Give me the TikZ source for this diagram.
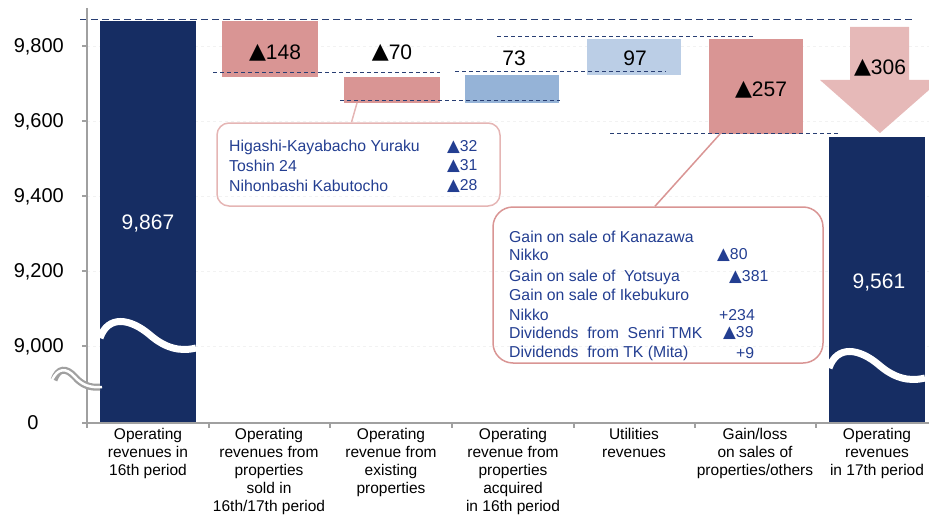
\documentclass[tikz,border=0pt]{standalone}
\usepackage{fontspec}
\setmainfont{Liberation Sans}
\newfontfamily\symfont{DejaVu Sans}
\newcommand{\tri}{{\symfont\raisebox{0.02em}{\scalebox{1.05}{▲}}}}
\definecolor{barnavy}{RGB}{22,45,99}
\definecolor{barpink}{RGB}{217,149,148}
\definecolor{arrowpink}{RGB}{230,185,184}
\definecolor{barblue}{RGB}{149,179,215}
\definecolor{barlight}{RGB}{187,206,230}
\definecolor{dashnavy}{RGB}{40,62,115}
\definecolor{noteblue}{RGB}{35,62,145}
\definecolor{axisgray}{RGB}{160,160,160}
\begin{document}
\begin{tikzpicture}[x=1pt,y=-1pt,
    ticklabel/.style={anchor=east,inner sep=0pt,font=\fontsize{20}{22}\selectfont},
    catlabel/.style={anchor=north,align=center,inner sep=0pt,font=\fontsize{15.5}{18}\selectfont},
    valuelabel/.style={inner sep=0pt,font=\fontsize{21}{22}\selectfont},
    notetext/.style={anchor=west,inner sep=0pt,text=noteblue,font=\fontsize{15.8}{17}\selectfont},
    guide/.style={dashnavy,line width=1pt,dash pattern=on 4pt off 3pt},
    wave/.style={white,line width=7pt},
    callout/.style={draw,line width=1.5pt,inner sep=0pt}]
                        \useasboundingbox (0,0) rectangle (929,519);

                        % grid
                        \foreach \y in {46,121,196,271,346}
                            \draw[gray!10,dashed] (87,\y) -- (929,\y);

                        % bars
                        \fill[barnavy] (100,21) rectangle (196,423);
                        \fill[barpink] (222,21) rectangle (318,77);
                        \fill[barpink] (344,77) rectangle (440,103);
                        \fill[barblue] (465,75) rectangle (559,103);
                        \fill[barlight] (587,39) rectangle (681,75);
                        \fill[barpink] (709,39) rectangle (803,134);
                        \fill[arrowpink] (850,27) -- (909,27) -- (909,80) -- (929,80) -- (929,90)
                            -- (880,133) -- (820,80) -- (850,80) -- cycle;
                        \fill[barnavy] (829,137) rectangle (925,423);

                        \draw[wave] (100,338) .. controls (108,315) and (130,318) .. (150,335)
                            .. controls (165,348) and (180,352) .. (196,348);
                        \draw[wave] (829,368) .. controls (837,345) and (859,348) .. (879,365)
                            .. controls (894,378) and (909,382) .. (925,378);

                        % guide lines
                        \draw[guide,dash pattern=on 7pt off 4pt] (80,20) -- (913,20);
                        \draw[guide] (213,73) -- (440,73);
                        \draw[guide] (340,100) -- (560,100);
                        \draw[guide] (455,72) -- (666,72);
                        \draw[guide] (497,37) -- (755,37);
                        \draw[guide] (610,133) -- (838,133);

                        % axes
                        \draw[axisgray,line width=1.5pt] (87,8) -- (87,423) -- (929,423);
                        \foreach \y in {46,121,196,271,346,423}
                            \draw[axisgray,line width=1.5pt] (82,\y) -- (87,\y);
                        \foreach \x in {87,209,330,452,574,695,816}
                            \draw[axisgray,line width=1.5pt] (\x,423) -- (\x,428);
                        \draw[axisgray,line width=7pt] (54,380) .. controls (58,368) and (66,367) .. (75,377)
                            .. controls (82,385) and (90,388) .. (100,387);
                        \draw[white,line width=2.5pt] (52,380) .. controls (58,368) and (66,367) .. (75,377)
                            .. controls (82,385) and (90,388) .. (102,387);

                        \node[ticklabel] (t9800) at (64,47) {9,800};
                        \node[ticklabel] (t9600) at (64,122) {9,600};
                        \node[ticklabel] (t9400) at (64,197) {9,400};
                        \node[ticklabel] (t9200) at (64,272) {9,200};
                        \node[ticklabel] (t9000) at (64,347) {9,000};
                        \node[inner sep=0pt,font=\fontsize{20}{22}\selectfont] (t0) at (33,423) {0};

                        % values
                        \node[valuelabel,text=white] (v16) at (148,224) {9,867};
                        \node[valuelabel] (vsold) at (275,53) {\tri148};
                        \node[valuelabel] (vexist) at (392,53) {\tri70};
                        \node[valuelabel] (vacq) at (514,58) {73};
                        \node[valuelabel] (vutil) at (635,58) {97};
                        \node[valuelabel] (vgain) at (761,90) {\tri257};
                        \node[valuelabel] (vdiff) at (880,68) {\tri306};
                        \node[valuelabel,text=white] (v17) at (879,283) {9,561};

                        % categories
                        \node[catlabel] (c16) at (148,428) {Operating\\revenues in\\16th period};
                        \node[catlabel] (csold) at (269,428) {Operating\\revenues from\\properties\\sold in\\16th/17th period};
                        \node[catlabel] (cexist) at (391,428) {Operating\\revenue from\\existing\\properties};
                        \node[catlabel] (cacq) at (513,428) {Operating\\revenue from\\properties\\acquired\\in 16th period};
                        \node[catlabel] (cutil) at (634,428) {Utilities\\revenues};
                        \node[catlabel] (cgain) at (755,428) {Gain/loss\\on sales of\\properties/others};
                        \node[catlabel] (c17) at (877,428) {Operating\\revenues\\in 17th period};

                        % callouts
                        \node[callout,draw=arrowpink!90!barpink,rounded corners=12pt,
                            minimum width=283pt,minimum height=83pt] (notea) at (358.5,164.5) {};
                        \coordinate (cuta) at (357,103);
                        \draw[arrowpink!90!barpink,line width=1.5pt] ([xshift=-7pt]notea.north) -- (cuta);
                        \node[notetext] (na1) at (229,147) {Higashi-Kayabacho Yuraku};
                        \node[notetext] (na2) at (229,166) {Toshin 24};
                        \node[notetext] (na3) at (229,186) {Nihonbashi Kabutocho};
                        \node[notetext] (va1) at (447,147) {\tri32};
                        \node[notetext] (va2) at (447,166) {\tri31};
                        \node[notetext] (va3) at (447,186) {\tri28};

                        \node[callout,draw=barpink,rounded corners=20pt,
                            minimum width=330pt,minimum height=156pt] (noteb) at (658,285) {};
                        \coordinate (cutb) at (720,134);
                        \draw[barpink,line width=1.5pt] ([xshift=-3pt]noteb.north) -- (cutb);
                        \node[notetext] (nb1) at (509,237) {Gain on sale of Kanazawa};
                        \node[notetext] (nb2) at (509,255) {Nikko};
                        \node[notetext] (nb3) at (509,277) {Gain on sale of \ Yotsuya};
                        \node[notetext] (nb4) at (509,295) {Gain on sale of Ikebukuro};
                        \node[notetext] (nb5) at (509,315) {Nikko};
                        \node[notetext] (nb6) at (509,333) {Dividends \ from \ Senri TMK};
                        \node[notetext] (nb7) at (509,353) {Dividends \ from TK (Mita)};
                        \node[notetext] (vb2) at (717,255) {\tri80};
                        \node[notetext] (vb3) at (729,277) {\tri381};
                        \node[notetext] (vb5) at (719,315) {+234};
                        \node[notetext] (vb6) at (723,333) {\tri39};
                        \node[notetext] (vb7) at (736,353) {+9};
                    \end{tikzpicture}
\end{document}
